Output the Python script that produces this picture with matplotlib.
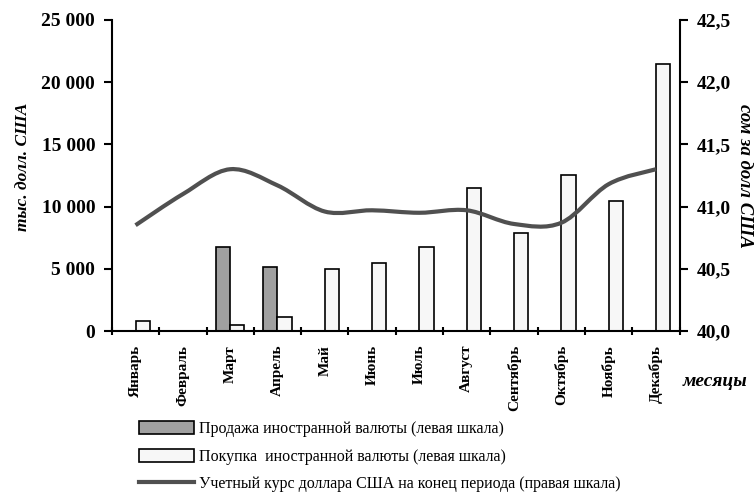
import matplotlib.pyplot as plt
from matplotlib.path import Path
from matplotlib.patches import Patch, PathPatch
from matplotlib.lines import Line2D
import numpy as np

# Данные
months = ['Январь', 'Февраль', 'Март', 'Апрель', 'Май', 'Июнь', 'Июль',
          'Август', 'Сентябрь', 'Октябрь', 'Ноябрь', 'Декабрь']
sales = [0, 0, 6750, 5150, 0, 0, 0, 0, 0, 0, 0, 0]
purchases = [800, 0, 500, 1150, 5000, 5450, 6750, 11500, 7900, 12500, 10450, 21450]
rate = [40.85, 41.10, 41.30, 41.17, 40.96, 40.97, 40.95, 40.97, 40.86, 40.87, 41.18, 41.30]

serif = 'Liberation Serif'
plt.rcParams['font.family'] = serif
font = {'family': serif, 'weight': 'bold'}

fig = plt.figure(figsize=(7.56, 4.97), dpi=100)
ax = fig.add_axes([0.148, 0.334, 0.751, 0.626])
ax2 = ax.twinx()

x = np.arange(len(months)) + 0.5
w = 0.3
ax.bar(x - w / 2, sales, w, color='#a0a0a0', edgecolor='black', linewidth=1.2)
ax.bar(x + w / 2, purchases, w, color='#f7f7f7', edgecolor='black', linewidth=1.2)

# Сглаженная линия курса (кривая Безье через точки)
verts = [(x[0], rate[0])]
codes = [Path.MOVETO]
n = len(x)
for i in range(n - 1):
    p0 = (x[max(i - 1, 0)], rate[max(i - 1, 0)])
    p1 = (x[i], rate[i])
    p2 = (x[i + 1], rate[i + 1])
    p3 = (x[min(i + 2, n - 1)], rate[min(i + 2, n - 1)])
    c1 = (p1[0] + (p2[0] - p0[0]) / 6, p1[1] + (p2[1] - p0[1]) / 6)
    c2 = (p2[0] - (p3[0] - p1[0]) / 6, p2[1] - (p3[1] - p1[1]) / 6)
    verts += [c1, c2, p2]
    codes += [Path.CURVE4] * 3
ax2.add_patch(PathPatch(Path(verts, codes), facecolor='none', edgecolor='#505050',
                        linewidth=3, capstyle='butt'))

ax.set_xlim(0, 12)
ax.set_ylim(0, 25000)
ax2.set_ylim(40.0, 42.5)

ax.set_yticks(range(0, 25001, 5000))
ax.set_yticklabels([f'{v:,}'.replace(',', ' ') for v in range(0, 25001, 5000)], fontdict=font, fontsize=14)
ax2.set_yticks([40.0, 40.5, 41.0, 41.5, 42.0, 42.5])
ax2.set_yticklabels([f'{v:.1f}'.replace('.', ',') for v in [40.0, 40.5, 41.0, 41.5, 42.0, 42.5]],
                    fontdict=font, fontsize=14)

ax.set_xticks(range(13))
ax.set_xticklabels([])
ax.set_xticks(x, minor=True)
ax.set_xticklabels(months, minor=True, rotation=90, fontdict=font, fontsize=11, va='top')
ax.tick_params(axis='x', which='minor', length=0, pad=10)
ax.tick_params(axis='x', which='major', length=6, width=1.5, direction='inout')
ax.tick_params(axis='y', length=6, width=1.5, direction='out', pad=6)
ax2.tick_params(axis='y', length=6, width=1.5, direction='out', pad=6)

for a in (ax, ax2):
    a.spines['top'].set_visible(False)
    for s in ('left', 'right', 'bottom'):
        a.spines[s].set_linewidth(1.5)
ax.spines['right'].set_visible(False)
ax2.spines['left'].set_visible(False)
ax2.spines['bottom'].set_visible(False)

fig.text(0.03, 0.665, 'тыс. долл. США', rotation=90, ha='center', va='center',
         fontsize=12.5, style='italic', fontweight='bold')
fig.text(0.985, 0.645, 'сом за долл США', rotation=270, ha='center', va='center',
         fontsize=13.5, style='italic', fontweight='bold')
fig.text(0.946, 0.233, 'месяцы', ha='center', va='center',
         fontsize=14, style='italic', fontweight='bold')

handles = [Patch(facecolor='#a0a0a0', edgecolor='black', linewidth=1.2),
           Patch(facecolor='#f7f7f7', edgecolor='black', linewidth=1.2),
           Line2D([], [], color='#505050', linewidth=3)]
labels = ['Продажа иностранной валюты (левая шкала)',
          'Покупка  иностранной валюты (левая шкала)',
          'Учетный курс доллара США на конец периода (правая шкала)']
fig.legend(handles, labels, loc='upper left', bbox_to_anchor=(0.176, 0.166),
           frameon=False, handlelength=3.4, handleheight=0.9, labelspacing=0.72,
           handletextpad=0.35, prop={'family': serif, 'size': 11.5},
           borderaxespad=0)

fig.savefig('out.png', dpi=100)
